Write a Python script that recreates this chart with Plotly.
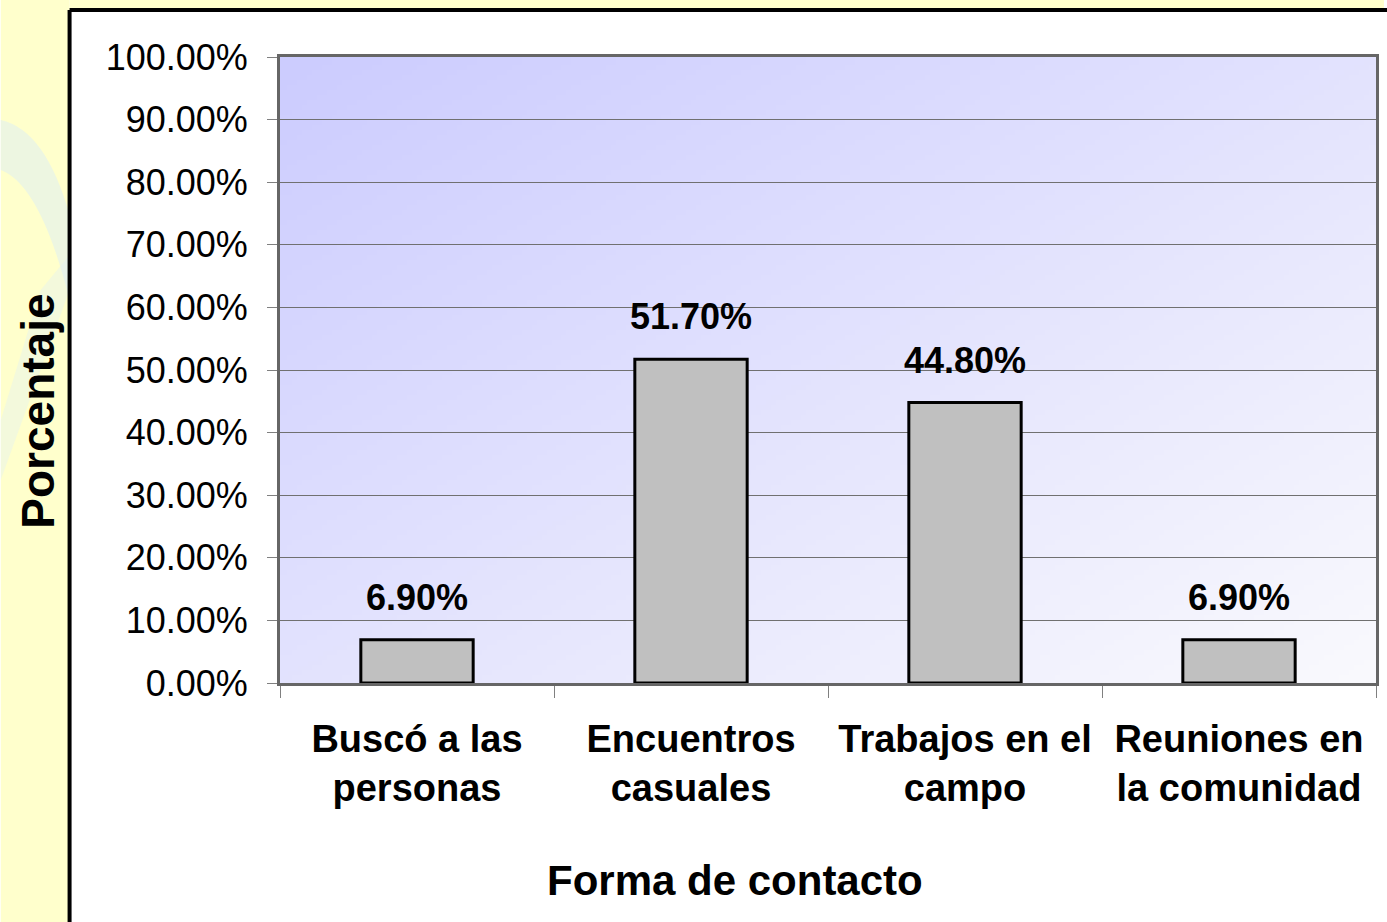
import base64
import struct
import zlib

import numpy as np
import plotly.graph_objects as go

categorias = ["Buscó a las<br>personas", "Encuentros<br>casuales",
              "Trabajos en el<br>campo", "Reuniones en<br>la comunidad"]
porcentajes = [6.9, 51.7, 44.8, 6.9]
y_ticks = list(range(0, 101, 10))
y_ticktext = [f"{v:.2f}%" for v in y_ticks]

W, H = 1387, 922
ML, MR, MT, MB = 280, 8, 57, 239
PW, PH = W - ML - MR, H - MT - MB
FONT = "Liberation Sans, Arial, sans-serif"


def px(x):
    # pixel de la figura -> coordenada paper
    return (x - ML) / PW


def py(y):
    return (H - MB - y) / PH


def gradiente_png(w=220, h=125):
    u = np.linspace(0, 1, w)[None, :]
    v = np.linspace(0, 1, h)[:, None]
    t = (u + v) / 2
    r = 204 + 46 * t
    b = 255 - 2 * t
    img = np.stack([r, r, b * np.ones_like(t)], axis=-1).astype(np.uint8)
    raw = b"".join(b"\x00" + img[i].tobytes() for i in range(h))

    def chunk(tag, data):
        return (struct.pack(">I", len(data)) + tag + data
                + struct.pack(">I", zlib.crc32(tag + data) & 0xffffffff))

    png = (b"\x89PNG\r\n\x1a\n"
           + chunk(b"IHDR", struct.pack(">IIBBBBB", w, h, 8, 2, 0, 0, 0))
           + chunk(b"IDAT", zlib.compress(raw, 9))
           + chunk(b"IEND", b""))
    return "data:image/png;base64," + base64.b64encode(png).decode()


fig = go.Figure()
fig.add_trace(go.Bar(x=categorias, y=porcentajes,
                     marker=dict(color="#C0C0C0", line=dict(color="black", width=3)),
                     hoverinfo="skip"))

for c, v in zip(categorias, porcentajes):
    fig.add_annotation(x=c, y=v, text=f"{v:.2f}%", showarrow=False,
                       yanchor="bottom", yshift=20,
                       font=dict(family=FONT, size=36, color="black", weight="bold"))

# fondo amarillo y marco del panel
shapes = [
    dict(type="rect", x0=px(0), x1=px(69), y0=py(H), y1=py(0),
         fillcolor="#FFFFCC", line_width=0),
    dict(type="rect", x0=px(69), x1=px(W), y0=py(10), y1=py(0),
         fillcolor="#FFFFCC", line_width=0),
    dict(type="path",
         path=f"M {px(0)},{py(120)} Q {px(45)},{py(130)} {px(69)},{py(215)} "
              f"L {px(69)},{py(300)} Q {px(40)},{py(185)} {px(0)},{py(170)} Z",
         fillcolor="rgba(215,235,250,0.45)", line_width=0),
    dict(type="path",
         path=f"M {px(0)},{py(420)} L {px(40)},{py(290)} L {px(69)},{py(255)} "
              f"L {px(69)},{py(290)} L {px(0)},{py(480)} Z",
         fillcolor="rgba(220,238,250,0.35)", line_width=0),
    dict(type="line", x0=px(69), x1=px(69), y0=py(10), y1=py(H + 5),
         line=dict(color="black", width=4)),
    dict(type="line", x0=px(69), x1=px(W + 5), y0=py(10), y1=py(10),
         line=dict(color="black", width=4)),
]
for s in shapes:
    fig.add_shape(xref="paper", yref="paper", layer="below", **s)

fig.add_layout_image(source=gradiente_png(), xref="paper", yref="paper",
                     x=0, y=1, sizex=1, sizey=1, xanchor="left", yanchor="top",
                     sizing="stretch", layer="below")

fig.add_annotation(text="Forma de contacto", xref="paper", yref="paper",
                   x=px(736), y=py(880), xanchor="center", yanchor="middle",
                   showarrow=False,
                   font=dict(family=FONT, size=42, color="black", weight="bold"))
fig.add_annotation(text="Porcentaje", xref="paper", yref="paper",
                   x=px(37), y=py(411), xanchor="center", yanchor="middle",
                   showarrow=False, textangle=-90,
                   font=dict(family=FONT, size=46, color="black", weight="bold"))

fig.update_layout(
    width=W, height=H,
    margin=dict(l=ML, r=MR, t=MT, b=MB),
    paper_bgcolor="white", plot_bgcolor="rgba(0,0,0,0)",
    bargap=0.59, showlegend=False,
    font=dict(family=FONT, color="black"),
)
fig.update_xaxes(
    tickson="boundaries", ticks="outside", ticklen=12, tickcolor="#808080",
    tickfont=dict(family=FONT, size=38, color="black", weight="bold"),
    ticklabelstandoff=20,
    showline=True, mirror=True, linecolor="#666666", linewidth=3,
    showgrid=False,
)
fig.update_yaxes(
    range=[0, 100], tickvals=y_ticks, ticktext=y_ticktext,
    ticks="outside", ticklen=10, tickcolor="#808080", ticklabelstandoff=12,
    tickfont=dict(family=FONT, size=36, color="black"),
    showline=True, mirror=True, linecolor="#666666", linewidth=3,
    gridcolor="#707070", gridwidth=1, zeroline=False,
)

fig.write_html("out.html", config={"displayModeBar": False},
               post_script="document.body.style.margin='0';")
